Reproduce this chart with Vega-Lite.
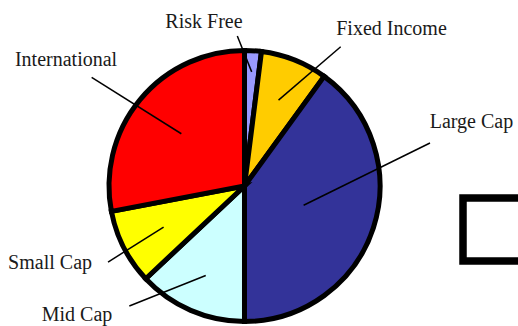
{
  "$schema": "https://vega.github.io/schema/vega-lite/v6.json",
  "width": 518,
  "height": 326,
  "padding": 0,
  "autosize": {"type": "none"},
  "background": "white",
  "config": {
    "view": {"stroke": null},
    "legend": {"strokeWidth": 7.5, "strokeColor": "black"}
  },
  "data": {
    "values": [
      {"category": "Risk Free", "value": 2},
      {"category": "Fixed Income", "value": 8},
      {"category": "Large Cap", "value": 40},
      {"category": "Mid Cap", "value": 13},
      {"category": "Small Cap", "value": 9},
      {"category": "International", "value": 28}
    ]
  },
  "transform": [
    {"window": [{"op": "sum", "field": "value", "as": "cum"}, {"op": "row_number", "as": "k"}], "frame": [null, 0]},
    {"joinaggregate": [{"op": "sum", "field": "value", "as": "total"}]},
    {"calculate": "datum.cum - datum.value", "as": "start"},
    {"calculate": "2*PI*(datum.cum - datum.value/2)/datum.total", "as": "ang"},
    {"calculate": "[0.844,0.682,0.459,0.720,0.670,0.605][datum.k-1]", "as": "rin"},
    {"calculate": "datum.rin*sin(datum.ang)", "as": "ix"},
    {"calculate": "datum.rin*cos(datum.ang)", "as": "iy"},
    {"calculate": "[-0.053,0.710,1.369,-0.850,-1.007,-1.128][datum.k-1]", "as": "ox"},
    {"calculate": "[1.107,1.028,0.317,-0.886,-0.561,0.802][datum.k-1]", "as": "oy"},
    {"calculate": "[-0.299,1.085,1.675,-1.236,-1.435,-1.317][datum.k-1]", "as": "lx"},
    {"calculate": "[1.166,1.114,0.428,-0.996,-0.613,0.886][datum.k-1]", "as": "ly"}
  ],
  "layer": [
    {
      "mark": {"type": "arc", "outerRadius": 135.5, "stroke": "black", "strokeWidth": 5},
      "encoding": {
        "x": {"datum": 0, "type": "quantitative", "scale": {"domain": [-1.8044, 2.0185], "nice": false, "zero": false}, "axis": null},
        "y": {"datum": 0, "type": "quantitative", "scale": {"domain": [-1.0332, 1.3727], "nice": false, "zero": false}, "axis": null},
        "theta": {"field": "start", "type": "quantitative", "scale": {"domain": [0, 100]}},
        "theta2": {"field": "cum"},
        "color": {
          "field": "category",
          "type": "nominal",
          "scale": {
            "domain": ["Risk Free", "Fixed Income", "Large Cap", "Mid Cap", "Small Cap", "International"],
            "range": ["#9999FF", "#FFCC00", "#333399", "#CCFFFF", "#FFFF00", "#FF0000"]
          },
          "legend": null
        }
      }
    },
    {
      "mark": {"type": "rule", "color": "black", "strokeWidth": 1.5},
      "encoding": {
        "x": {"field": "ix", "type": "quantitative", "scale": {"domain": [-1.8044, 2.0185], "nice": false, "zero": false}, "axis": null},
        "y": {"field": "iy", "type": "quantitative", "scale": {"domain": [-1.0332, 1.3727], "nice": false, "zero": false}, "axis": null},
        "x2": {"field": "ox"},
        "y2": {"field": "oy"}
      }
    },
    {
      "mark": {"type": "text", "font": "Liberation Serif", "fontSize": 20, "align": "center", "baseline": "alphabetic", "color": "#1a1a1a"},
      "encoding": {
        "x": {"field": "lx", "type": "quantitative", "scale": {"domain": [-1.8044, 2.0185], "nice": false, "zero": false}, "axis": null},
        "y": {"field": "ly", "type": "quantitative", "scale": {"domain": [-1.0332, 1.3727], "nice": false, "zero": false}, "axis": null},
        "text": {"field": "category"}
      }
    },
    {
      "mark": {"type": "point", "opacity": 0},
      "encoding": {
        "x": {"datum": 0, "type": "quantitative", "scale": {"domain": [-1.8044, 2.0185], "nice": false, "zero": false}, "axis": null},
        "y": {"datum": 0, "type": "quantitative", "scale": {"domain": [-1.0332, 1.3727], "nice": false, "zero": false}, "axis": null},
        "shape": {
          "datum": "box",
          "type": "nominal",
          "legend": {
            "orient": "none",
            "legendX": 463,
            "legendY": 198,
            "title": null,
            "padding": 0,
            "symbolSize": 3969,
            "symbolOpacity": 0,
            "symbolStrokeWidth": 0,
            "labelOpacity": 0,
            "labelOffset": 20,
            "labelExpr": "''",
            "labelFontSize": 12
          }
        }
      }
    }
  ]
}
